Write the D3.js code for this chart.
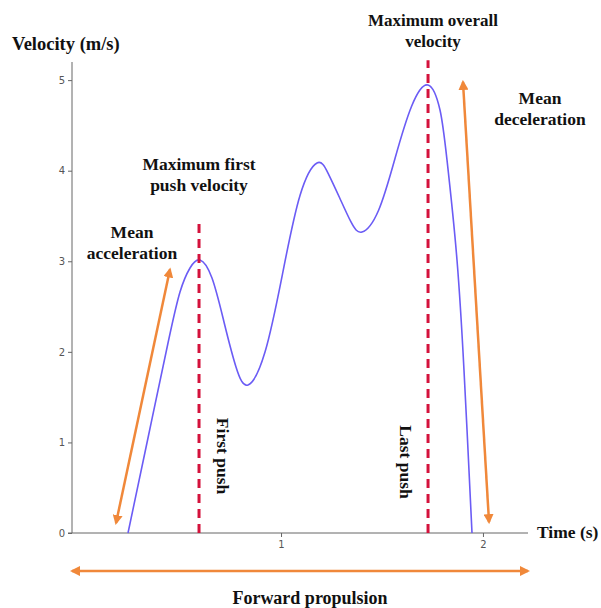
<!DOCTYPE html>
<html>
<head>
<meta charset="utf-8">
<script src="https://cdn.jsdelivr.net/npm/d3@7"></script>
<style>
  body { margin: 0; background: #fff; }
  .lbl { font-family: "Liberation Serif", "Times New Roman", serif; font-weight: bold; font-size: 17.5px; fill: #111; }
  .tick text { font-family: "DejaVu Sans", sans-serif; font-size: 10px; fill: #555; }
</style>
</head>
<body>
<div id="graph"></div>
<script>
// velocity curve (time in s, velocity in m/s)
const time = [0.2423, 0.3413, 0.4404, 0.4998, 0.5493, 0.5988, 0.6582, 0.7176, 0.7771, 0.8365,
  0.9207, 1.0073, 1.0940, 1.1782, 1.2326, 1.2896, 1.3465, 1.4010, 1.4827, 1.5644, 1.6461,
  1.7278, 1.7872, 1.8219, 1.8714, 1.9060, 1.9259, 1.9457]
const velocity = [0, 1.049, 2.098, 2.661, 2.926, 3.014, 2.815, 2.330, 1.833, 1.634,
  1.998, 2.859, 3.726, 4.085, 3.974, 3.704, 3.434, 3.323, 3.561, 4.135, 4.709,
  4.946, 4.670, 4.118, 3.014, 1.800, 0.916, 0]

const yTicks = [0, 1, 2, 3, 4, 5]
const xTicks = [1, 2]

// push markers: time, top velocity
const pushTimes = [0.594, 1.728]
const pushTops = [3.43, 5.22]

// orange arrows: [t1, v1, t2, v2]
const arrows = [
  [0.183, 0.11, 0.450, 2.91],
  [1.901, 4.98, 2.030, 0.12],
  [-0.035, -0.42, 2.223, -0.42]
]

const width = 601
const height = 608

const svg = d3.select("#graph").append("svg")
  .attr("width", width)
  .attr("height", height)

const x = d3.scaleLinear().domain([-0.035, 2.223]).range([72, 528])
const y = d3.scaleLinear().domain([0, 5.2]).range([533, 62])

const defs = svg.append("defs")
defs.append("marker")
  .attr("id", "head")
  .attr("viewBox", "0 0 10 10")
  .attr("refX", 8).attr("refY", 5)
  .attr("markerWidth", 4).attr("markerHeight", 4)
  .attr("orient", "auto-start-reverse")
  .append("path")
  .attr("d", "M0,0 L10,5 L0,10 z")
  .attr("fill", "#f0883a")

// axes
svg.append("g")
  .attr("transform", "translate(72,0)")
  .call(d3.axisLeft(y).tickValues(yTicks).tickFormat(d3.format("d")).tickSize(4).tickPadding(3))
  .call(g => g.select(".domain").attr("stroke", "#666").attr("d", "M0,62V533"))
  .call(g => g.selectAll(".tick line").attr("stroke", "#666"))

svg.append("g")
  .attr("transform", "translate(0,533)")
  .call(d3.axisBottom(x).tickValues(xTicks).tickFormat(d3.format("d")).tickSize(4).tickPadding(4))
  .call(g => g.select(".domain").attr("stroke", "#666").attr("d", "M68,0H528"))
  .call(g => g.selectAll(".tick line").attr("stroke", "#666"))

// velocity curve
const pts = time.map((t, i) => [t, velocity[i]])
svg.append("path")
  .datum(pts)
  .attr("fill", "none")
  .attr("stroke", "#6b5cf5")
  .attr("stroke-width", 1.6)
  .attr("d", d3.line().x(d => x(d[0])).y(d => y(d[1])).curve(d3.curveNatural))

// red dashed push lines
svg.selectAll(".push")
  .data(pushTimes)
  .enter()
  .append("line")
  .attr("x1", d => x(d)).attr("x2", d => x(d))
  .attr("y1", y(0)).attr("y2", (d, i) => y(pushTops[i]))
  .attr("stroke", "#d4123c")
  .attr("stroke-width", 3)
  .attr("stroke-dasharray", "9,6")

// orange arrows
svg.selectAll(".arr")
  .data(arrows)
  .enter()
  .append("line")
  .attr("x1", d => x(d[0])).attr("y1", d => y(d[1]))
  .attr("x2", d => x(d[2])).attr("y2", d => y(d[3]))
  .attr("stroke", "#f0883a")
  .attr("stroke-width", 2.5)
  .attr("marker-start", "url(#head)")
  .attr("marker-end", "url(#head)")

// labels
function label(lines, cx, cy, anchor, size) {
  const t = svg.append("text").attr("class", "lbl")
    .attr("text-anchor", anchor || "middle")
  if (size) t.style("font-size", size + "px")
  lines.forEach((s, i) => {
    t.append("tspan").attr("x", cx).attr("y", cy + i * 21).text(s)
  })
}

label(["Velocity (m/s)"], 12, 50, "start", 18.5)
label(["Time (s)"], 537, 538, "start")
label(["Maximum first", "push velocity"], 199, 170)
label(["Mean", "acceleration"], 132, 238)
label(["Maximum overall", "velocity"], 433, 26, "middle", 17)
label(["Mean", "deceleration"], 540, 104)
label(["Forward propulsion"], 310, 604, "middle", 18)

svg.append("text").attr("class", "lbl")
  .attr("transform", "translate(217,456) rotate(90)")
  .attr("text-anchor", "middle")
  .text("First push")

svg.append("text").attr("class", "lbl")
  .attr("transform", "translate(400,462) rotate(90)")
  .attr("text-anchor", "middle")
  .text("Last push")
</script>
</body>
</html>
